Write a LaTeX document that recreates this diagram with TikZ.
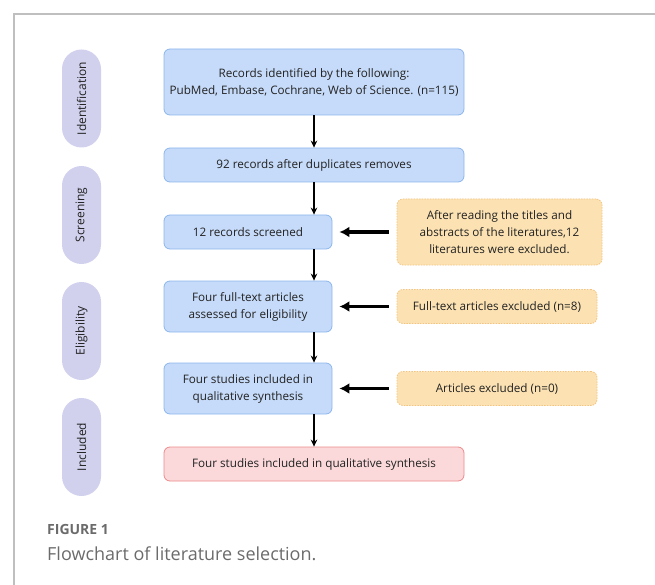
\documentclass[tikz,border=0pt]{standalone}
\usepackage{fontspec}
\setmainfont{Open Sans}
\usetikzlibrary{arrows.meta}
\definecolor{bluefill}{HTML}{C6DBF9}
\definecolor{blueline}{HTML}{8DB6EC}
\definecolor{redfill}{HTML}{FBD9DA}
\definecolor{redline}{HTML}{EC8A8C}
\definecolor{orfill}{HTML}{FCE2B3}
\definecolor{orline}{HTML}{F3C47F}
\definecolor{pillfill}{HTML}{D1D1EE}
\definecolor{framegray}{HTML}{BFBFBF}
\definecolor{captgray}{HTML}{6B6B6B}
\definecolor{txt}{HTML}{222222}
\tikzset{
  flowbox/.style={draw=blueline, fill=bluefill, rounded corners=6pt, line width=0.8pt,
    align=center, inner sep=0pt, text=txt, font=\fontsize{11.7}{17}\selectfont},
  redbox/.style={flowbox, draw=redline, fill=redfill},
  exclbox/.style={flowbox, draw=orline, fill=orfill, dash pattern=on 1.5pt off 1.2pt},
  pill/.style={fill=pillfill, rounded corners=19.5pt, rotate=90, minimum width=98pt,
    minimum height=39pt, inner sep=0pt, text=txt, font=\fontsize{12}{14}\selectfont},
  downarrow/.style={-{Stealth[length=7pt,width=6.5pt]}, line width=1.4pt, black},
  sidearrow/.style={-{Latex[length=10pt,width=11pt]}, line width=3pt, black}
}
\begin{document}
\begin{tikzpicture}[x=1pt,y=-1pt]
\useasboundingbox (0,0) rectangle (655,585);
\draw[framegray, line width=1.2pt] (655,14) -- (14,14) -- (14,585);

% stage pills
\node[pill] (pid) at (81.5,98.5) {Identification};
\node[pill] (psc) at (81.5,215) {Screening};
\node[pill] (pel) at (81.5,331) {Eligibility};
\node[pill] (pin) at (81.5,447) {Included};

% main boxes
\node[flowbox, minimum width=300pt, minimum height=66pt] (b1) at (314,82)
  {Records identified by the following:\\PubMed, Embase, Cochrane, Web of Science. (n=115)};
\node[flowbox, minimum width=300pt, minimum height=34pt] (b2) at (314,165)
  {92 records after duplicates removes};
\node[flowbox, minimum width=168pt, minimum height=34pt] (b3) at (248,232)
  {12 records screened};
\node[flowbox, minimum width=168pt, minimum height=51pt] (b4) at (248,306.5)
  {Four full-text articles\\assessed for eligibility};
\node[flowbox, minimum width=168pt, minimum height=51pt] (b5) at (248,388.5)
  {Four studies included in\\qualitative synthesis};
\node[redbox, minimum width=300pt, minimum height=34pt] (b6) at (314,464)
  {Four studies included in qualitative synthesis};

% exclusion boxes
\node[exclbox, minimum width=205pt, minimum height=66pt] (o1) at (499.5,232)
  {After reading the titles and\\abstracts of the literatures,12\\literatures were excluded.};
\node[exclbox, minimum width=200pt, minimum height=34pt] (o2) at (497,306.5)
  {Full-text articles excluded (n=8)};
\node[exclbox, minimum width=200pt, minimum height=34pt] (o3) at (497,388.5)
  {Articles excluded (n=0)};

% vertical arrows
\draw[downarrow] (b1.south) -- (b2.north);
\draw[downarrow] (b2.south) -- (b2.south |- b3.north);
\draw[downarrow] (b3.south -| b2.south) -- (b4.north -| b2.south);
\draw[downarrow] (b4.south -| b2.south) -- (b5.north -| b2.south);
\draw[downarrow] (b5.south -| b2.south) -- (b6.north);

% side arrows
\draw[sidearrow, shorten <=8pt, shorten >=7pt] (o1.west) -- (b3.east);
\draw[sidearrow, shorten <=8pt, shorten >=7pt] (o2.west) -- (b4.east);
\draw[sidearrow, shorten <=8pt, shorten >=7pt] (o3.west) -- (b5.east);

% caption
\node[anchor=base west, inner sep=0pt, text=captgray, font=\fontsize{14}{16}\selectfont\bfseries] (fig) at (47,534) {FIGURE 1};
\node[anchor=base west, inner sep=0pt, text=captgray, font=\fontsize{18}{20}\selectfont] (cap) at (47,560) {Flowchart of literature selection.};
\end{tikzpicture}
\end{document}
